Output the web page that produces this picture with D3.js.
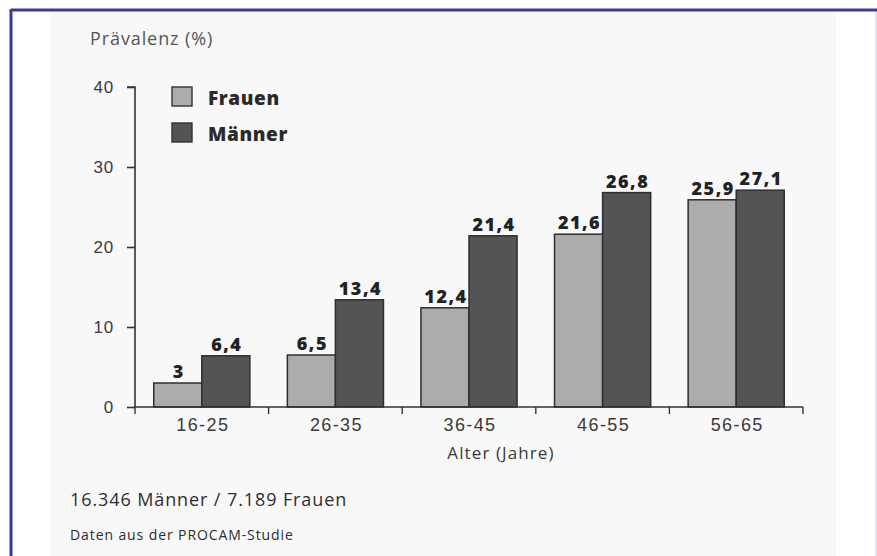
<!DOCTYPE html>
<html>
<head>
<meta charset="utf-8">
<script src="https://cdn.jsdelivr.net/npm/d3@7"></script>
<style>
  html, body { margin: 0; padding: 0; background: #ffffff; }
  svg { display: block; font-family: "Open Sans", "Noto Sans", sans-serif; }
</style>
</head>
<body>
<svg id="chart" width="877" height="556"></svg>
<script>
// Age groups and prevalence (%) per sex
const ageGroups = ["16-25", "26-35", "36-45", "46-55", "56-65"];
const seriesNames = ["Frauen", "Männer"];
const frauen = [3, 6.5, 12.4, 21.6, 25.9];
const maenner = [6.4, 13.4, 21.4, 26.8, 27.1];
const yTicks = [0, 10, 20, 30, 40];

const seriesValues = [frauen, maenner];
const colors = ["#acacac", "#545454"];

const svg = d3.select("#chart");

// Frame and panel background
svg.append("rect").attr("x", 50).attr("y", 12).attr("width", 786).attr("height", 544).attr("fill", "#f8f8f8");
svg.append("line").attr("x1", 11).attr("x2", 877).attr("y1", 10).attr("y2", 10)
  .attr("stroke", "#3a3a9a").attr("stroke-width", 3);
svg.append("line").attr("x1", 11).attr("x2", 11).attr("y1", 9).attr("y2", 556)
  .attr("stroke", "#3a3a9a").attr("stroke-width", 3);
svg.append("line").attr("x1", 876).attr("x2", 876).attr("y1", 12).attr("y2", 556)
  .attr("stroke", "#d8d8ec").attr("stroke-width", 1.5);

const plotLeft = 135, plotRight = 803, plotTop = 87, plotBottom = 407;

const x = d3.scaleBand().domain(ageGroups).range([plotLeft, plotRight]).paddingInner(0).paddingOuter(0);
const xs = d3.scaleBand().domain(seriesNames).range([0, x.bandwidth()]).paddingInner(0).paddingOuter(0.39);
const y = d3.scaleLinear().domain([0, 40]).range([plotBottom, plotTop]);

// Y axis
const yAxis = svg.append("g").attr("transform", `translate(${plotLeft},0)`)
  .call(d3.axisLeft(y).tickValues(yTicks).tickSize(8).tickPadding(13));
yAxis.select(".domain").attr("stroke", "#333").attr("stroke-width", 1.6).attr("d", `M-8,${plotTop}H0V${plotBottom}`);
yAxis.selectAll(".tick line").attr("stroke", "#333").attr("stroke-width", 1.6);
yAxis.selectAll(".tick text").attr("fill", "#3a3a3a").attr("font-size", 17).attr("font-weight", 500)
  .attr("letter-spacing", 0.8);

// Bars
const groups = svg.append("g").selectAll("g").data(ageGroups).join("g")
  .attr("transform", d => `translate(${x(d)},0)`);

const cells = (d, i) => seriesNames.map((s, k) => ({ s, k, v: seriesValues[k][i] }));

groups.selectAll("rect")
  .data(cells)
  .join("rect")
  .attr("x", d => xs(d.s))
  .attr("width", xs.bandwidth())
  .attr("y", d => y(d.v))
  .attr("height", d => y(0) - y(d.v))
  .attr("fill", d => colors[d.k])
  .attr("stroke", "#2e2e2e")
  .attr("stroke-width", 1.5);

groups.selectAll("text.val")
  .data(cells)
  .join("text")
  .attr("class", "val")
  .attr("x", d => xs(d.s) + xs.bandwidth() / 2 + 1)
  .attr("y", d => y(d.v) - 5)
  .attr("text-anchor", "middle")
  .attr("font-size", 18)
  .attr("font-weight", 800)
  .attr("letter-spacing", 1.5)
  .attr("fill", "#222")
  .text(d => String(d.v).replace(".", ","));

// X axis
const xAxis = svg.append("g").attr("transform", `translate(0,${plotBottom})`)
  .call(d3.axisBottom(x).tickSize(0).tickPadding(11));
xAxis.select(".domain").attr("stroke", "#333").attr("stroke-width", 1.6).attr("d", `M${plotLeft},0H${plotRight}`);
xAxis.selectAll(".tick text").attr("fill", "#3a3a3a").attr("font-size", 18).attr("font-weight", 500)
  .attr("letter-spacing", 1.4).attr("dx", 1);
svg.append("g").selectAll("line")
  .data(d3.range(ageGroups.length + 1))
  .join("line")
  .attr("x1", i => plotLeft + i * x.bandwidth())
  .attr("x2", i => plotLeft + i * x.bandwidth())
  .attr("y1", plotBottom)
  .attr("y2", plotBottom + 7)
  .attr("stroke", "#333").attr("stroke-width", 1.4);

// Axis titles
svg.append("text").attr("x", 90).attr("y", 45).attr("font-size", 18).attr("font-weight", 500)
  .attr("letter-spacing", 0.9).attr("fill", "#555").text("Prävalenz (%)");
svg.append("text").attr("x", 501).attr("y", 459).attr("text-anchor", "middle")
  .attr("font-size", 17).attr("font-weight", 500).attr("letter-spacing", 1.1)
  .attr("fill", "#3a3a3a").text("Alter (Jahre)");

// Legend
const legend = svg.append("g");
seriesNames.forEach((s, k) => {
  legend.append("rect").attr("x", 172).attr("y", 87 + k * 36).attr("width", 20).attr("height", 19)
    .attr("fill", colors[k]).attr("stroke", "#333").attr("stroke-width", 1.4);
  legend.append("text").attr("x", 208).attr("y", 105 + k * 36).attr("font-size", 19)
    .attr("font-weight", 800).attr("letter-spacing", 0.6).attr("fill", "#2a2a2a").text(s);
});

// Footnotes
svg.append("text").attr("x", 70).attr("y", 506).attr("font-size", 18).attr("font-weight", 500)
  .attr("letter-spacing", 0.9).attr("fill", "#2e2e2e").text("16.346 Männer / 7.189 Frauen");
svg.append("text").attr("x", 70).attr("y", 540).attr("font-size", 14).attr("font-weight", 500)
  .attr("letter-spacing", 0.9).attr("fill", "#2e2e2e").text("Daten aus der PROCAM-Studie");
</script>
</body>
</html>
